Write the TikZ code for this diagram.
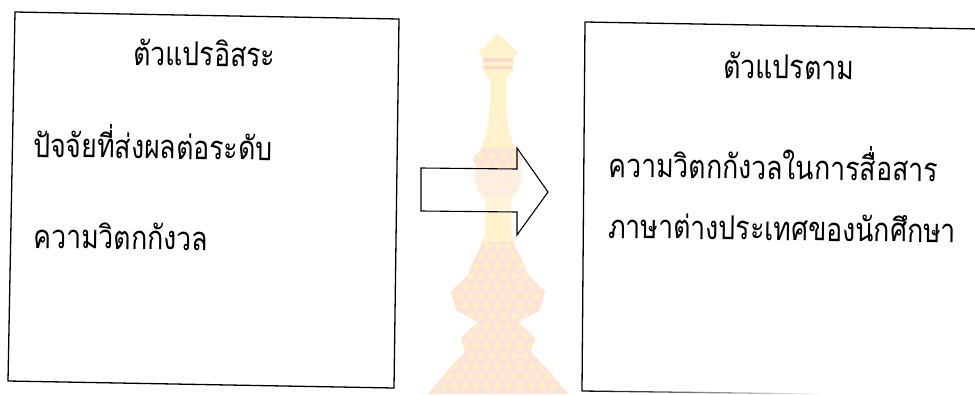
\documentclass[tikz,border=0pt]{standalone}
\usepackage{fontspec}
\newfontfamily\thaifont[Script=Thai, FakeStretch=0.81]{Loma}
\usetikzlibrary{fadings}
\definecolor{stupa}{RGB}{255,242,204}
\definecolor{stupapink}{RGB}{252,228,217}
\definecolor{stupadot}{RGB}{255,239,196}
\definecolor{stupaband}{RGB}{249,218,200}
\tikzset{
  boxline/.style={line width=1.3pt, line join=miter},
  arrowline/.style={line width=1.1pt, line join=miter},
  label/.style={font=\thaifont\fontsize{33}{40}\selectfont, inner sep=0pt, anchor=base west, rotate=-0.8},
}
\begin{document}
\begin{tikzpicture}[x=1pt,y=-1pt]
\useasboundingbox (0,0) rectangle (975,394);
\fill[white] (0,0) rectangle (975,394);

% faint stupa emblem in the background
\def\stupapath{(498,33) -- (518,53) -- (513,58) -- (514,62) -- (512,72) -- (506,80) -- (506,110)
  -- (510,135) -- (515,150) -- (523,158) -- (520,168) -- (522,178) -- (518,190) -- (511,200)
  -- (511,235) -- (516,248) -- (523,262) -- (528,275) -- (545,292) -- (540,310) -- (518,322)
  -- (535,338) -- (531,352) -- (548,370) -- (568,394) -- (428,394) -- (448,370) -- (465,352)
  -- (461,338) -- (478,322) -- (456,310) -- (451,292) -- (468,275) -- (473,262) -- (480,248)
  -- (485,235) -- (485,200) -- (478,190) -- (474,178) -- (476,168) -- (473,158) -- (481,150)
  -- (486,135) -- (490,110) -- (490,80) -- (484,72) -- (482,62) -- (483,58) -- (478,53) -- cycle}
\fill[stupa] \stupapath;
\begin{scope}
  \clip \stupapath;
  % patterned tiers: pink ground with pale dots
  \fill[stupapink] (420,148) rectangle (580,196);
  \fill[stupapink] (420,242) rectangle (580,394);
  \foreach \row in {0,...,25}{
    \foreach \col in {-8,...,8}{
      \pgfmathsetmacro{\cx}{498+\col*11+mod(\row,2)*5.5}
      \pgfmathsetmacro{\cy}{146+\row*10}
      \fill[stupadot] (\cx,\cy) circle (3.2);
    }
  }
  \fill[stupa] (420,198) rectangle (580,242);
  \fill[stupaband] (483,58) rectangle (513,62);
  \fill[stupaband] (483,66) rectangle (513,69);
\end{scope}

% left box: independent variables
\coordinate (l1) at (15,12);
\coordinate (l2) at (399,19);
\coordinate (l3) at (394,388);
\coordinate (l4) at (8,381);
\draw[boxline] (l1) -- (l2) -- (l3) -- (l4) -- cycle;
\node[label] (lt) at (133,65) {ตัวแปรอิสระ};
\node[label] (la) at (33,157) {ปัจจัยที่ส่งผลต่อระดับ};
\node[label] (lb) at (33,248) {ความวิตกกังวล};

% right box: dependent variable (runs off the right edge)
\coordinate (r1) at (585,22);
\coordinate (r2) at (980,29);
\coordinate (r4) at (582,391);
\coordinate (r5) at (820,394);
\draw[boxline] (r2) -- (r1) -- (r4);
\draw[boxline, path fading=east] (r4) -- (r5);
\node[label] (rt) at (723,78) {ตัวแปรตาม};
\node[label] (ra) at (608,177) {ความวิตกกังวลในการสื่อสาร};
\node[label] (rb) at (608,238) {ภาษาต่างประเทศของนักศึกษา};

% block arrow between the boxes
\draw[arrowline, fill=white, fill opacity=0.3]
  (421,168) -- (517,169) -- (517,148) -- (548,192) -- (517,235) -- (517,212) -- (421,211) -- cycle;
\end{tikzpicture}
\end{document}
